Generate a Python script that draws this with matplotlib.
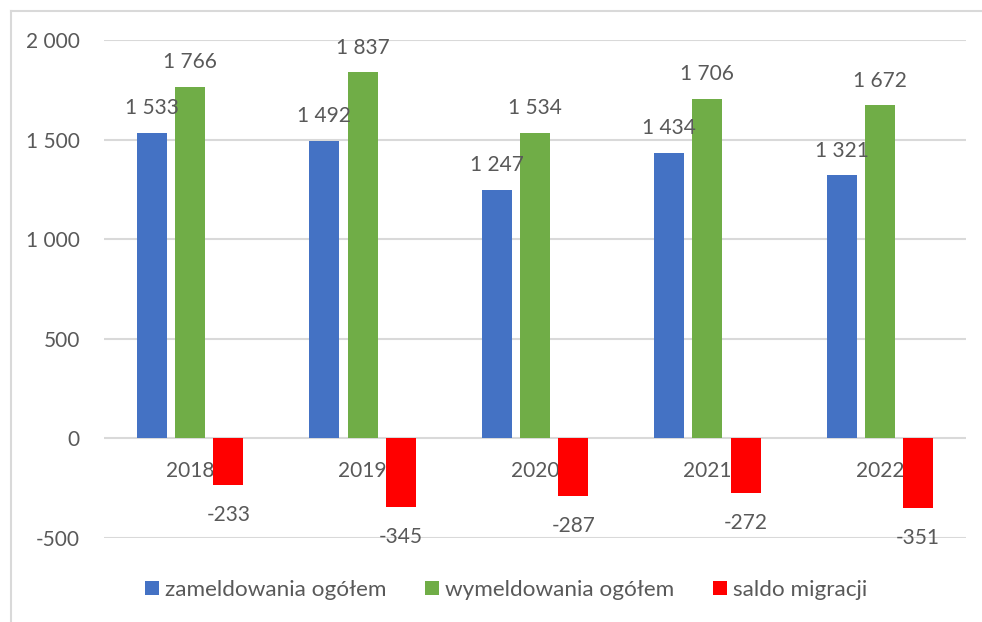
import matplotlib
matplotlib.use("Agg")
import matplotlib.pyplot as plt
from matplotlib.patches import Patch
from matplotlib.lines import Line2D
import numpy as np

plt.rcParams['font.family'] = ['Lato', 'DejaVu Sans']

years = ["2018", "2019", "2020", "2021", "2022"]
zameldowania = [1533, 1492, 1247, 1434, 1321]
wymeldowania = [1766, 1837, 1534, 1706, 1672]
saldo = [-233, -345, -287, -272, -351]
series_names = ["zameldowania ogółem", "wymeldowania ogółem", "saldo migracji"]
colors = ["#4472C4", "#70AD47", "#FF0000"]
yticks = [-500, 0, 500, 1000, 1500, 2000]

W, H = 982, 622
fig = plt.figure(figsize=(W / 100, H / 100), dpi=100)
TXT = "#595959"
FS = 15

ax = fig.add_axes([104 / W, 1 - 538 / H, (966 - 104) / W, (538 - 40) / H])
ax.set_axisbelow(True)
for s in ax.spines.values():
    s.set_visible(False)
ax.spines["bottom"].set_position(("data", 0))

x = np.arange(len(years))
bw = 0.174
step = 0.222
data = [zameldowania, wymeldowania, saldo]
for i, (vals, col) in enumerate(zip(data, colors)):
    pos = x + (i - 1) * step
    ax.bar(pos, vals, width=bw, color=col, zorder=2)
    for p, v in zip(pos, vals):
        lab = f"{abs(v):,}".replace(",", " ")
        if v < 0:
            lab = "-" + lab
            ax.annotate(lab, (p, v), xytext=(0, -26), textcoords="offset points",
                        ha="center", va="baseline", fontsize=FS, color=TXT,
                        annotation_clip=False, zorder=3)
        else:
            ax.annotate(lab, (p, v), xytext=(0, 13.5), textcoords="offset points",
                        ha="center", va="baseline", fontsize=FS, color=TXT,
                        annotation_clip=False, zorder=3)

ax.set_xlim(-0.5, len(years) - 0.5)
ax.set_ylim(-500, 2000)
ax.set_yticks(yticks)
ax.set_yticklabels([f"{t:,}".replace(",", " ") for t in yticks], fontsize=FS, color=TXT)
ax.tick_params(axis="y", length=0, pad=17.5)
ax.yaxis.grid(True, color="#D9D9D9", linewidth=1.5)

ax.set_xticks(x)
ax.set_xticklabels(years, fontsize=FS, color=TXT)
ax.tick_params(axis="x", length=0, pad=16)

handles = [Patch(facecolor=c, edgecolor="none") for c in colors]
fig.legend(handles, series_names, loc="center", bbox_to_anchor=(506 / W, 1 - 590 / H),
           ncol=3, frameon=False, fontsize=16.2, labelcolor=TXT, borderpad=0,
           handlelength=0.63, handleheight=0.63, handletextpad=0.27, columnspacing=1.7)

# outer chart frame
fig.add_artist(Line2D([10.5 / W, 10.5 / W], [1 - 11 / H, 0], color="#D9D9D9", lw=1.5,
                      transform=fig.transFigure))
fig.add_artist(Line2D([10.5 / W, 1], [1 - 11 / H, 1 - 11 / H], color="#D9D9D9", lw=1.5,
                      transform=fig.transFigure))

fig.savefig("out.png", dpi=100)
